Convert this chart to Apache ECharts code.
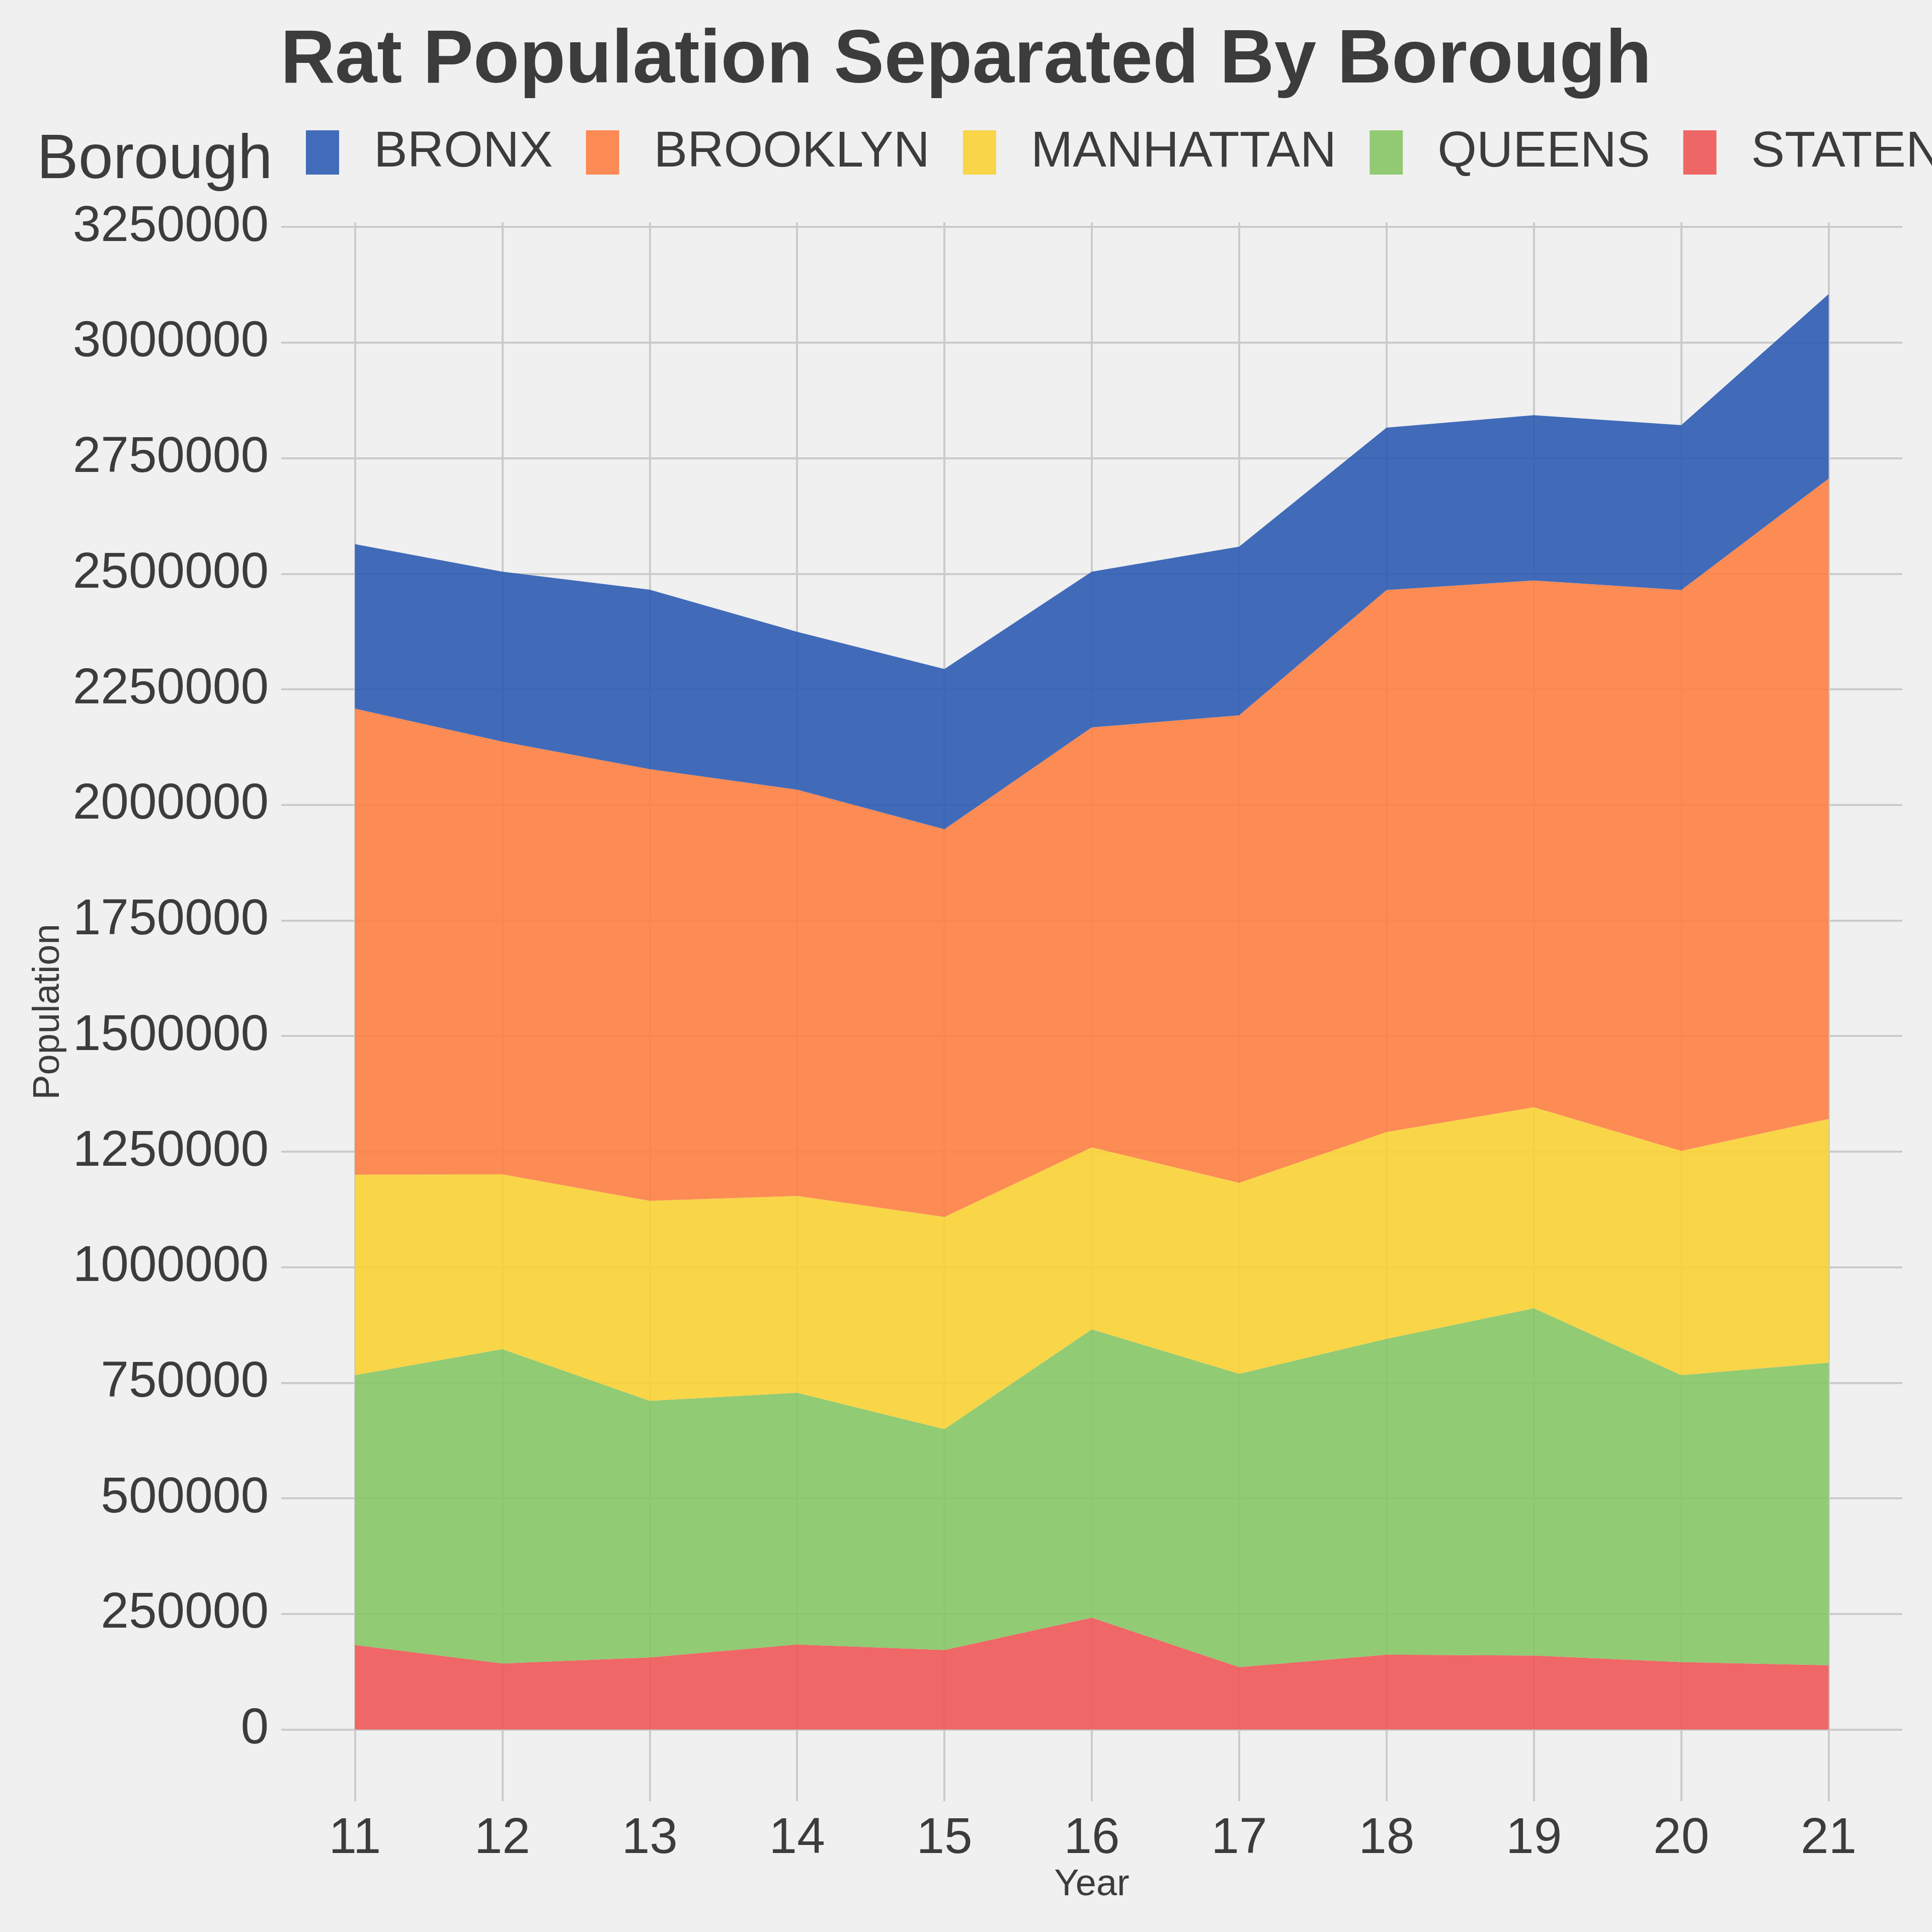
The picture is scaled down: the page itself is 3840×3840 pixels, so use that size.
<!DOCTYPE html>
<html>
<head>
<meta charset="utf-8">
<script src="https://cdn.jsdelivr.net/npm/echarts@6.0.0/dist/echarts.min.js"></script>
<style>
html,body{margin:0;padding:0;background:#f0f0f0;}
#chart{width:3840px;height:3840px;}
</style>
</head>
<body>
<div id="chart"></div>
<script>
const years = [11, 12, 13, 14, 15, 16, 17, 18, 19, 20, 21];
const yTicks = [0, 250000, 500000, 750000, 1000000, 1250000, 1500000, 1750000, 2000000, 2250000, 2500000, 2750000, 3000000, 3250000];
const boroughs = ['BRONX', 'BROOKLYN', 'MANHATTAN', 'QUEENS', 'STATEN ISLAND'];
const staten    = [183000, 143000, 156000, 184000, 172000, 242000, 135000, 162000, 160000, 146000, 139000];
const queens    = [583500, 679900, 555100, 544500, 477800, 623600, 634400, 683200, 751300, 620500, 654800];
const manhattan = [433600, 378100, 432600, 425800, 458900, 393700, 413200, 447200, 434600, 485100, 526800];
const brooklyn  = [1008200, 936000, 933700, 878800, 838700, 908400, 1011300, 1172300, 1139600, 1213100, 1385200];
const bronx     = [355700, 367500, 388200, 341400, 346600, 336800, 364700, 351300, 357500, 356600, 399000];

const legendColors = {
  'BRONX': '#426BB9', 'BROOKLYN': '#FC8A54', 'MANHATTAN': '#F9D548',
  'QUEENS': '#91CA73', 'STATEN ISLAND': '#EE6766'
};
const fillColors = {
  'BRONX': '#2E5CB3', 'BROOKLYN': '#FD7F43', 'MANHATTAN': '#FAD235',
  'QUEENS': '#86C665', 'STATEN ISLAND': '#EE5857'
};
const seriesData = [
  ['STATEN ISLAND', staten],
  ['QUEENS', queens],
  ['MANHATTAN', manhattan],
  ['BROOKLYN', brooklyn],
  ['BRONX', bronx]
];

const textColor = '#3c3c3c';
const font = "'Liberation Sans', Arial, sans-serif";

const chart = echarts.init(document.getElementById('chart'), null, {renderer: 'canvas'});
chart.setOption({
  backgroundColor: '#f0f0f0',
  animation: false,
  title: [
    {
      text: 'Rat Population Separated By Borough',
      left: 'center', top: 48, padding: 0,
      textStyle: {fontFamily: font, fontSize: 150, fontWeight: 'bold', color: textColor}
    },
    {
      text: 'Borough',
      left: 73, top: 258, padding: 0,
      textStyle: {fontFamily: font, fontSize: 124, fontWeight: 'normal', color: textColor}
    }
  ],
  legend: {
    data: boroughs,
    left: 608, top: 253, width: 6000, padding: 0,
    orient: 'horizontal',
    itemWidth: 66, itemHeight: 88, itemGap: 66,
    icon: 'rect',
    textStyle: {fontFamily: font, fontSize: 100, color: textColor, padding: [0, 0, 0, 64]}
  },
  grid: {left: 559, right: 59, top: 442, bottom: 260, containLabel: false},
  xAxis: [
    {
      type: 'category', data: years, boundaryGap: true,
      axisLine: {show: false}, axisTick: {show: false},
      axisLabel: {show: false}, splitLine: {show: false}
    },
    {
      type: 'value', min: 10.5, max: 21.5, position: 'bottom',
      name: 'Year', nameLocation: 'middle', nameGap: 125,
      nameTextStyle: {fontFamily: font, fontSize: 74, color: textColor},
      axisLine: {show: false},
      axisTick: {show: false, customValues: years},
      axisLabel: {customValues: years, fontFamily: font, fontSize: 100, color: textColor, margin: 25,
                  formatter: v => String(v)},
      splitLine: {show: true, lineStyle: {color: '#cbcbcb', width: 4}}
    }
  ],
  yAxis: {
    type: 'value', min: -155000, max: 3260000,
    name: 'Population', nameLocation: 'middle', nameGap: 380,
    nameTextStyle: {fontFamily: font, fontSize: 74, color: textColor},
    axisLine: {show: false},
    axisTick: {show: false, customValues: yTicks},
    axisLabel: {customValues: yTicks, fontFamily: font, fontSize: 100, color: textColor, margin: 25,
                formatter: v => String(v)},
    splitLine: {show: true, lineStyle: {color: '#cbcbcb', width: 4}}
  },
  series: seriesData.map(([name, vals]) => ({
    name: name,
    type: 'line',
    xAxisIndex: 0,
    stack: 'total',
    data: vals,
    showSymbol: false,
    symbol: 'none',
    lineStyle: {width: 0, opacity: 0},
    itemStyle: {color: legendColors[name]},
    areaStyle: {color: fillColors[name], opacity: 0.9},
    emphasis: {disabled: true}
  }))
});
</script>
</body>
</html>
